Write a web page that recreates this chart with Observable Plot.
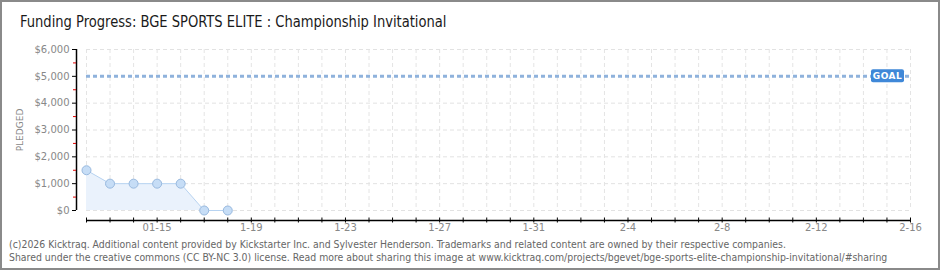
<!DOCTYPE html>
<html>
<head>
<meta charset="utf-8">
<script src="https://cdn.jsdelivr.net/npm/d3@7"></script>
<script src="https://cdn.jsdelivr.net/npm/@observablehq/plot@0.6"></script>
<style>
  body { margin: 0; background: #fff; }
  #wrap { position: relative; width: 940px; height: 270px; overflow: hidden; background: #fff; }
  #border { position: absolute; left: 0; top: 0; width: 940px; height: 270px; box-sizing: border-box; border: 2px solid #8a8a8a; pointer-events: none; }
  #title { position: absolute; left: 20px; top: 14px; font-family: "DejaVu Sans Condensed", sans-serif; font-size: 16px; line-height: 1; color: #1a1a1a; white-space: nowrap; transform-origin: 0 0; transform: scaleX(0.91); }
  #chart { position: absolute; left: 0; top: 40px; }
  #footer { position: absolute; left: 9px; top: 238px; font-family: "DejaVu Sans Condensed", "DejaVu Sans", sans-serif; font-size: 10.4px; line-height: 13px; color: #666; white-space: nowrap; }
</style>
</head>
<body>
<div id="wrap">
  <div id="title">Funding Progress: BGE SPORTS ELITE : Championship Invitational</div>
  <div id="chart"></div>
  <div id="footer">
    <div>(c)2026 Kicktraq. Additional content provided by Kickstarter Inc. and Sylvester Henderson. Trademarks and related content are owned by their respective companies.</div>
    <div>Shared under the creative commons (CC BY-NC 3.0) license. Read more about sharing this image at www.kicktraq.com/projects/bgevet/bge-sports-elite-championship-invitational/#sharing</div>
  </div>
  <div id="border"></div>
</div>
<script>
// ---- data ----
const dates = ["2026-01-12", "2026-01-13", "2026-01-14", "2026-01-15", "2026-01-16", "2026-01-17", "2026-01-18"];
const pledged = [1500, 1000, 1000, 1000, 1000, 0, 0];
const goal = 5000;
const domainStart = "2026-01-12";
const domainEnd = "2026-02-16";
const yTicks = [0, 1000, 2000, 3000, 4000, 5000, 6000];
const yMinorTicks = [500, 1500, 2500, 3500, 4500, 5500];
const xLabelDates = ["2026-01-15", "2026-01-19", "2026-01-23", "2026-01-27", "2026-01-31", "2026-02-04", "2026-02-08", "2026-02-12", "2026-02-16"];
const xLabels = ["01-15", "1-19", "1-23", "1-27", "1-31", "2-4", "2-8", "2-12", "2-16"];
const yTitle = "PLEDGED";
const goalText = "GOAL";

// ---- build ----
const parse = d3.utcParse("%Y-%m-%d");
const data = dates.map((d, i) => ({date: parse(d), value: pledged[i]}));
const x0 = parse(domainStart), x1 = parse(domainEnd);
const days = d3.utcDay.range(x0, d3.utcDay.offset(x1, 1));
const labelData = xLabelDates.map((d, i) => ({date: parse(d), label: xLabels[i]}));
const fmt = d => "$" + d3.format(",")(d);

const axisFont = "'DejaVu Sans', sans-serif";

// goal badge custom mark
function goalBadge(index, scales, values, dims) {
  const y = scales.y(goal);
  const right = dims.width - dims.marginRight;
  const g = d3.create("svg:g");
  const w = 33, h = 13;
  const bx = right - 39;
  g.append("rect").attr("x", bx).attr("y", y - h / 2).attr("width", w).attr("height", h)
    .attr("rx", 2).attr("fill", "#3f88d8");
  g.append("text").attr("x", bx + w / 2).attr("y", y + 0.5).attr("text-anchor", "middle")
    .attr("dominant-baseline", "middle").attr("fill", "#fff")
    .attr("font-family", axisFont).attr("font-size", 9).attr("font-weight", "bold")
    .attr("letter-spacing", 0.5).text(goalText);
  return g.node();
}

const chart = Plot.plot({
  width: 940,
  height: 195,
  marginTop: 9,
  marginBottom: 25,
  marginLeft: 86,
  marginRight: 30,
  style: {fontFamily: axisFont, fontSize: "10px", background: "transparent", overflow: "visible"},
  x: {type: "utc", domain: [x0, x1], axis: null},
  y: {domain: [0, 6000], axis: null},
  marks: [
    Plot.ruleY(yTicks, {stroke: "#e2e2e2", strokeDasharray: "4,3"}),
    Plot.ruleX(days, {stroke: "#e4e4e4", strokeDasharray: "4,3"}),
    Plot.areaY(data, {x: "date", y: "value", fill: "#eaf2fc"}),
    Plot.lineY(data, {x: "date", y: "value", stroke: "#b7d3f1", strokeWidth: 1}),
    Plot.ruleY([goal], {stroke: "#8fb2dc", strokeWidth: 3, strokeDasharray: "4,3"}),
    Plot.dot(data, {x: "date", y: "value", r: 4.5, fill: "#c6ddf6", stroke: "#98b9df", strokeWidth: 1}),
    // y axis
    Plot.ruleX([x0], {dx: -10, stroke: "#000", strokeWidth: 1.5}),
    Plot.axisY(yTicks, {label: null, tickSize: 4, dx: -10, tickPadding: 3, tickFormat: fmt, fill: "#888", stroke: "#000", fontSize: 10}),
    Plot.axisY(yMinorTicks, {label: null, tickSize: 3, dx: -10, tickFormat: () => "", stroke: "#e00000"}),
    Plot.text([yTitle], {frameAnchor: "left", textAnchor: "middle", rotate: -90, dx: -66, fill: "#888", fontSize: 9, letterSpacing: 2.5}),
    // x axis
    Plot.ruleY([0], {dy: 10, stroke: "#000", strokeWidth: 1.5}),
    Plot.axisX(days, {label: null, tickSize: 5, dy: 7.5, tickFormat: () => "", stroke: "#000"}),
    Plot.text(labelData, {x: "date", text: "label", frameAnchor: "bottom", dy: 20, fill: "#888", fontSize: 10}),
    goalBadge
  ]
});
document.getElementById("chart").appendChild(chart);
</script>
</body>
</html>
